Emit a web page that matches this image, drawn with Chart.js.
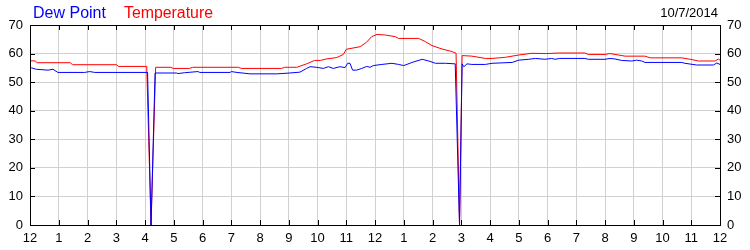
<!DOCTYPE html>
<html>
<head>
<meta charset="utf-8">
<script src="https://cdn.jsdelivr.net/npm/chart.js@4"></script>
<style>
  body { margin: 0; background: #fff; }
  #wrap { width: 750px; height: 250px; }
</style>
</head>
<body>
<div id="wrap"><canvas id="myChart"></canvas></div>
<script>
// readings, hours after midnight
var tempHours = [0, 0.18, 0.25, 1.4, 1.48, 3.0, 3.08, 4.06, 4.21, 4.37, 4.9, 4.98, 5.55, 5.65, 7.25, 7.35, 8.75, 8.85, 9.28, 9.62, 9.9, 10.1, 10.3, 10.67, 10.9, 11.0, 11.48, 11.7, 11.88, 12.07, 12.36, 12.71, 12.82, 13.52, 13.75, 13.98, 14.33, 14.68, 14.82, 14.94, 15.03, 15.37, 15.84, 16.07, 16.54, 17.0, 17.46, 17.98, 18.38, 19.3, 19.42, 20.0, 20.17, 20.35, 20.7, 21.39, 21.57, 22.67, 23.02, 23.25, 23.83, 23.94, 24];
var temperature = [57.5, 57.4, 56.8, 56.8, 56.1, 56.1, 55.5, 55.5, 0, 55.2, 55.2, 54.8, 54.8, 55.2, 55.2, 54.8, 54.8, 55.2, 55.2, 56.4, 57.6, 57.6, 58.1, 58.6, 59.7, 61.5, 62.4, 63.9, 65.9, 66.7, 66.5, 65.9, 65.3, 65.3, 64.2, 62.8, 61.6, 60.7, 60.1, 0, 59.3, 59.1, 58.3, 58.3, 58.7, 59.5, 60.1, 60.0, 60.2, 60.2, 59.7, 59.7, 60.0, 59.7, 59.1, 59.1, 58.5, 58.5, 57.9, 57.4, 57.4, 58.1, 57.7];

var dewHours = [0, 0.05, 0.22, 0.63, 0.8, 0.97, 1.9, 2.08, 2.25, 4.09, 4.21, 4.35, 5.1, 5.15, 5.38, 5.84, 5.91, 6.96, 7.0, 7.2, 7.65, 8.58, 9.04, 9.39, 9.62, 9.74, 9.97, 10.2, 10.38, 10.55, 10.78, 10.96, 11.05, 11.13, 11.22, 11.36, 11.54, 11.71, 11.83, 11.94, 12.24, 12.59, 12.82, 13.0, 13.29, 13.64, 13.87, 14.1, 14.45, 14.79, 14.94, 15.03, 15.09, 15.2, 15.37, 15.84, 16.07, 16.77, 17.0, 17.35, 17.58, 17.91, 18.14, 18.26, 18.43, 19.3, 19.42, 20.0, 20.17, 20.35, 20.58, 20.93, 21.1, 21.28, 21.39, 22.67, 22.78, 23.19, 23.77, 23.89, 24];
var dewPoint = [54.8, 55.0, 54.5, 54.2, 54.5, 53.4, 53.4, 53.7, 53.4, 53.4, 0, 53.2, 53.2, 53.0, 53.3, 53.7, 53.4, 53.4, 53.7, 53.4, 52.9, 52.9, 53.2, 53.5, 54.8, 55.4, 55.2, 54.8, 55.4, 54.8, 55.4, 55.1, 56.6, 56.6, 54.2, 54.2, 54.8, 55.5, 55.2, 55.8, 56.2, 56.6, 56.2, 55.8, 56.9, 58.0, 57.4, 56.6, 56.6, 56.4, 0, 56.4, 55.4, 56.4, 56.2, 56.2, 56.6, 56.9, 57.7, 58.0, 58.3, 58.0, 58.3, 58.0, 58.3, 58.3, 58.0, 58.0, 58.3, 58.1, 57.6, 57.4, 57.7, 57.4, 56.9, 56.9, 56.6, 56.0, 56.0, 56.7, 56.2];

var dateLabel = "10/7/2014";
var seriesNames = ["Dew Point", "Temperature"];

function points(xs, ys) {
  return xs.map(function (x, i) { return { x: x, y: ys[i] }; });
}

var tickFont = { family: "'Liberation Sans', Arial, sans-serif", size: 13 };

// inward tick marks, frame and header texts
var framePlugin = {
  id: "frame",
  afterDraw: function (chart) {
    var ctx = chart.ctx;
    var a = chart.chartArea;
    var xs = chart.scales.x, ys = chart.scales.y;
    ctx.save();
    ctx.strokeStyle = "#000";
    ctx.lineWidth = 1;
    ctx.beginPath();
    xs.ticks.forEach(function (t) {
      var px = Math.round(xs.getPixelForValue(t.value)) + 0.5;
      ctx.moveTo(px, a.bottom); ctx.lineTo(px, a.bottom - 5);
      ctx.moveTo(px, a.top); ctx.lineTo(px, a.top + 5);
    });
    ys.ticks.forEach(function (t) {
      var py = Math.round(ys.getPixelForValue(t.value)) + 0.5;
      ctx.moveTo(a.left, py); ctx.lineTo(a.left + 5, py);
      ctx.moveTo(a.right, py); ctx.lineTo(a.right - 5, py);
    });
    ctx.stroke();
    ctx.strokeRect(Math.round(a.left) + 0.5, Math.round(a.top) + 0.5, Math.round(a.right - a.left), Math.round(a.bottom - a.top));

    ctx.textBaseline = "alphabetic";
    ctx.font = "16px 'Liberation Sans', Arial, sans-serif";
    ctx.fillStyle = "#0000ff";
    ctx.fillText(seriesNames[0], 33, 18, 74);
    ctx.fillStyle = "#ff0000";
    ctx.fillText(seriesNames[1], 124, 18, 89);
    ctx.font = "13px 'Liberation Sans', Arial, sans-serif";
    ctx.fillStyle = "#000";
    ctx.textAlign = "right";
    ctx.fillText(dateLabel, 718, 17);
    ctx.restore();
  }
};

new Chart("myChart", {
  type: "line",
  data: {
    datasets: [{
      label: seriesNames[0],
      data: points(dewHours, dewPoint),
      borderColor: "#0000ff",
      borderWidth: 1,
      pointRadius: 0,
      tension: 0
    }, {
      label: seriesNames[1],
      data: points(tempHours, temperature),
      borderColor: "#ff0000",
      borderWidth: 1,
      pointRadius: 0,
      tension: 0
    }]
  },
  options: {
    responsive: true,
    maintainAspectRatio: false,
    animation: false,
    layout: { padding: { top: 25, left: 0, right: 0, bottom: 0 } },
    plugins: {
      legend: { display: false },
      tooltip: { enabled: false }
    },
    scales: {
      x: {
        type: "linear",
        min: 0,
        max: 24,
        afterFit: function (s) { s.height = 25; },
        grid: { color: "#d0d0d0", drawTicks: false },
        border: { display: false },
        ticks: {
          stepSize: 1,
          padding: 6,
          color: "#000",
          font: tickFont,
          maxRotation: 0,
          autoSkip: false,
          callback: function (v) { var h = v % 12; return h === 0 ? "12" : String(h); }
        }
      },
      y: {
        position: "left",
        min: 0,
        max: 70,
        afterFit: function (s) { s.width = 30; },
        grid: { color: "#d0d0d0", drawTicks: false },
        border: { display: false },
        ticks: { stepSize: 10, padding: 7, color: "#000", font: tickFont }
      },
      y2: {
        position: "right",
        min: 0,
        max: 70,
        afterFit: function (s) { s.width = 30; },
        grid: { display: false, drawTicks: false },
        border: { display: false },
        ticks: { stepSize: 10, padding: 7, color: "#000", font: tickFont }
      }
    }
  },
  plugins: [framePlugin]
});
</script>
</body>
</html>
